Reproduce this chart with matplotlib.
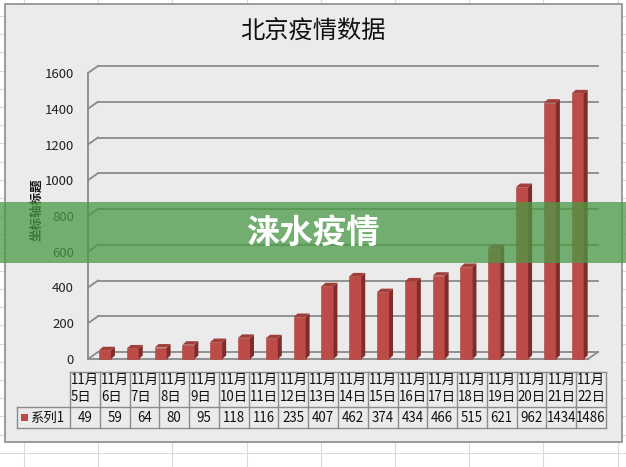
import matplotlib
matplotlib.use('Agg')
import matplotlib.pyplot as plt
from matplotlib.patches import Rectangle, Polygon
from matplotlib.lines import Line2D

plt.rcParams['font.family'] = ['Noto Sans CJK SC', 'DejaVu Sans']

# ---------------- data ----------------
title = '北京疫情数据'
ylabel = '坐标轴标题'
banner = '涞水疫情'
series_name = '系列1'
months = ['11月'] * 18
days = ['5日', '6日', '7日', '8日', '9日', '10日', '11日', '12日', '13日', '14日',
        '15日', '16日', '17日', '18日', '19日', '20日', '21日', '22日']
values = [49, 59, 64, 80, 95, 118, 116, 235, 407, 462, 374, 434, 466, 515,
          621, 962, 1434, 1486]
yticks = [0, 200, 400, 600, 800, 1000, 1200, 1400, 1600]

# ---------------- figure ----------------
W, H = 626, 467
fig = plt.figure(figsize=(W / 100, H / 100), dpi=100)
fig.patch.set_facecolor('white')


def fx(x):
    return x / W


def fy(y):
    return 1 - y / H


def fline(xs, ys, **kw):
    fig.add_artist(Line2D([fx(v) for v in xs], [fy(v) for v in ys],
                          transform=fig.transFigure, **kw))


def frect(x0, y0, x1, y1, **kw):
    r = Rectangle((fx(x0), fy(y1)), fx(x1) - fx(x0), fy(y0) - fy(y1),
                  transform=fig.transFigure, **kw)
    fig.add_artist(r)
    return r


# spreadsheet grid behind the chart
GRID = '#dadada'
k = 0
while 24 + 74.2 * k < W:
    fline([24 + 74.2 * k] * 2, [0, H], color=GRID, lw=0.8, zorder=-10)
    k += 1
k = 0
while 16 + 18.2 * k < H:
    fline([0, W], [16 + 18.2 * k] * 2, color=GRID, lw=0.8, zorder=-10)
    k += 1

# chart area
frect(5, 4, 622, 442, facecolor='#ebebeb', edgecolor='#8c8c8c', lw=1.2, zorder=-5)

# ---------------- plot area ----------------
x0, x1 = -0.61, 17.37
ax = fig.add_axes([fx(88), fy(359), fx(588) - fx(88), fy(73) - fy(359)])
ax.set_xlim(x0, x1)
ax.set_ylim(0, 1600)
ax.patch.set_visible(False)
for s in ax.spines.values():
    s.set_visible(False)
ax.set_xticks([])
ax.set_yticks(yticks)
ax.set_yticklabels([str(t) for t in yticks])
ax.tick_params(axis='y', length=0, pad=10, labelsize=9.5, labelcolor='#222222')

ppx = 500 / (x1 - x0)          # pixels per x unit
ppy = 286 / 1600               # pixels per y unit
ddx, ddy = 10 / ppx, 7 / ppy   # wall depth
bdx, bdy = 4 / ppx, 3.5 / ppy  # bar depth

GC = '#8a8a8a'
for t in yticks:
    ax.plot([x0 + ddx, x1 + ddx], [t + ddy, t + ddy], color=GC, lw=1.3,
            clip_on=False, zorder=1)
    ax.plot([x0, x0 + ddx], [t, t + ddy], color=GC, lw=1.3, clip_on=False, zorder=1)
ax.plot([x0, x0], [0, 1600], color=GC, lw=1.3, clip_on=False, zorder=1)
ax.plot([x0, x1], [0, 0], color=GC, lw=1.3, clip_on=False, zorder=1)
ax.plot([x1, x1 + ddx], [0, ddy], color=GC, lw=1.3, clip_on=False, zorder=1)

# bars
FRONT, SIDE, TOP = '#bd4b48', '#7f2d2b', '#a13f3b'
bw = 0.43
xs = list(range(len(values)))
ax.bar(xs, values, width=bw, color=FRONT, edgecolor='#a8413e', lw=0.4,
       zorder=3, clip_on=False)
for x, v in zip(xs, values):
    r = x + bw / 2
    l = x - bw / 2
    ax.add_patch(Polygon([(r, 0), (r + bdx, bdy), (r + bdx, v + bdy), (r, v)],
                         closed=True, facecolor=SIDE, edgecolor='none',
                         zorder=3, clip_on=False))
    ax.add_patch(Polygon([(l, v), (r, v), (r + bdx, v + bdy), (l + bdx, v + bdy)],
                         closed=True, facecolor=TOP, edgecolor='none',
                         zorder=3, clip_on=False))

# ---------------- titles ----------------
fig.text(fx(313), fy(31), title, ha='center', va='center', fontsize=17.5,
         color='#111111')
fig.text(fx(37), fy(210), ylabel, ha='center', va='center', fontsize=9,
         rotation=90, fontweight='bold', color='#111111')

# ---------------- data table ----------------
TC = '#8c8c8c'
tl, tr = 70, 606
cw = (tr - tl) / len(values)
yt, ym, yb = 372, 407, 428
fline([tl, tr], [yt, yt], color=TC, lw=1)
fline([17, tr], [ym, ym], color=TC, lw=1)
fline([17, tr], [yb, yb], color=TC, lw=1)
fline([17, 17], [ym, yb], color=TC, lw=1)
for i in range(len(values) + 1):
    xv = tl + cw * i
    fline([xv, xv], [yt, yb], color=TC, lw=1)
for i, (m, d, v) in enumerate(zip(months, days, values)):
    cx = tl + cw * i
    fig.text(fx(cx + 1), fy(380), m, ha='left', va='center', fontsize=9.6,
             color='#111111')
    fig.text(fx(cx + 1), fy(397), d, ha='left', va='center', fontsize=9.6,
             color='#111111')
    fig.text(fx(cx + cw / 2), fy(418), str(v), ha='center', va='center',
             fontsize=9.6, color='#111111')
frect(21, 414, 28, 421, facecolor=FRONT, edgecolor='none')
fig.text(fx(30), fy(418), series_name, ha='left', va='center', fontsize=9.6,
         color='#111111')

# ---------------- banner overlay ----------------
frect(0, 202, W, 263, facecolor='#4a9a45', edgecolor='none', alpha=0.75, zorder=20)
fig.text(fx(313), fy(233), banner, ha='center', va='center', fontsize=24,
         fontweight='bold', color='white', zorder=21)

fig.savefig('out.png', dpi=100)
